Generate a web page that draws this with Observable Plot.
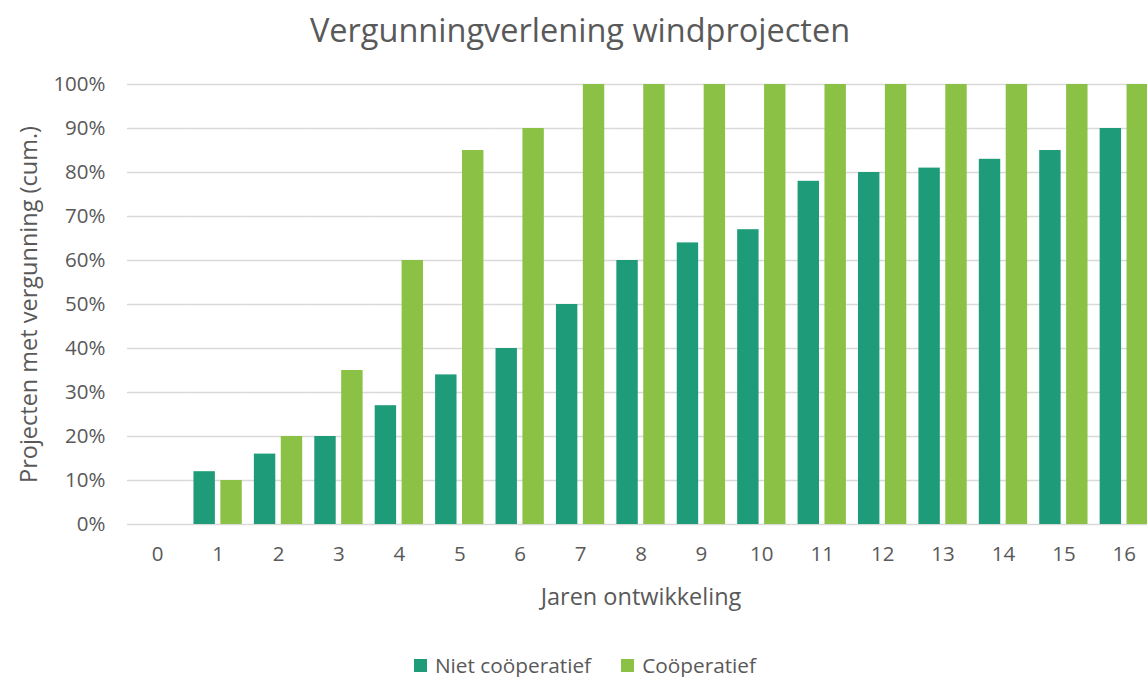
<!DOCTYPE html>
<html>
<head>
<meta charset="utf-8">
<script src="https://cdn.jsdelivr.net/npm/d3@7"></script>
<script src="https://cdn.jsdelivr.net/npm/@observablehq/plot@0.6"></script>
<style>
  html, body { margin: 0; padding: 0; background: white; overflow: hidden; }
  #wrap { width: 1147px; overflow: hidden; }
  #inner { width: 1162px; }
  #title { height: 62px; line-height: 60px; text-align: center; font-family: "Open Sans", sans-serif; font-size: 32.5px; color: #595959; width: 1160px; }
  #legend { height: 50px; display: flex; justify-content: center; align-items: center; gap: 30px; font-family: "Open Sans", sans-serif; font-size: 20.8px; color: #595959; width: 1170px; }
  .item { display: flex; align-items: center; gap: 8px; }
  .sw { width: 13px; height: 13px; display: inline-block; }
</style>
</head>
<body>
<div id="wrap"><div id="inner">
  <div id="title">Vergunningverlening windprojecten</div>
  <div id="chart"></div>
  <div id="legend"></div>
</div></div>
<script>
const years = [0, 1, 2, 3, 4, 5, 6, 7, 8, 9, 10, 11, 12, 13, 14, 15, 16];
const nietCoop = [0, 12, 16, 20, 27, 34, 40, 50, 60, 64, 67, 78, 80, 81, 83, 85, 90];
const coop = [0, 10, 20, 35, 60, 85, 90, 100, 100, 100, 100, 100, 100, 100, 100, 100, 100];
const seriesNames = ["Niet coöperatief", "Coöperatief"];
const seriesColors = ["#1e9b78", "#8bc145"];
const yTicks = [0, 10, 20, 30, 40, 50, 60, 70, 80, 90, 100];

const data = years.flatMap((yr, i) => [
  { year: yr, series: seriesNames[0], value: nietCoop[i] },
  { year: yr, series: seriesNames[1], value: coop[i] }
]);

const chart = Plot.plot({
  width: 1154,
  height: 578,
  marginLeft: 127,
  marginRight: 0,
  marginTop: 22,
  marginBottom: 116,
  style: { fontFamily: "Open Sans, sans-serif", fontSize: "20.5px", color: "#595959", background: "white" },
  fx: { domain: years, paddingInner: 0, paddingOuter: 0, round: false },
  x: { domain: seriesNames, paddingInner: 0.204, paddingOuter: 0.225, round: false, axis: null },
  y: { domain: [0, 100] },
  color: { domain: seriesNames, range: seriesColors },
  marks: [
    Plot.gridY(yTicks, { stroke: "#d9d9d9", strokeOpacity: 1, strokeWidth: 1.5 }),
    Plot.barY(data, { fx: "year", x: "series", y: "value", fill: "series" }),
    Plot.axisY(yTicks, {
      tickSize: 0, tickPadding: 22, tickFormat: d => d + "%",
      label: null
    }),
    Plot.axisY({
      ticks: [], tickSize: 0, fontSize: 23.5,
      label: "Projecten met vergunning (cum.)", labelAnchor: "center", labelArrow: "none", labelOffset: 107
    }),
    Plot.axisFx({
      anchor: "bottom", tickSize: 0, tickPadding: 22, label: null
    }),
    Plot.axisFx({
      anchor: "bottom", ticks: [], tickSize: 0, fontSize: 23.5,
      label: "Jaren ontwikkeling", labelAnchor: "center", labelArrow: "none", labelOffset: 80
    })
  ]
});
document.getElementById("chart").appendChild(chart);

const legend = document.getElementById("legend");
seriesNames.forEach((name, i) => {
  const item = document.createElement("span");
  item.className = "item";
  const sw = document.createElement("span");
  sw.className = "sw";
  sw.style.background = seriesColors[i];
  const t = document.createElement("span");
  t.textContent = name;
  item.appendChild(sw);
  item.appendChild(t);
  legend.appendChild(item);
});
</script>
</body>
</html>
